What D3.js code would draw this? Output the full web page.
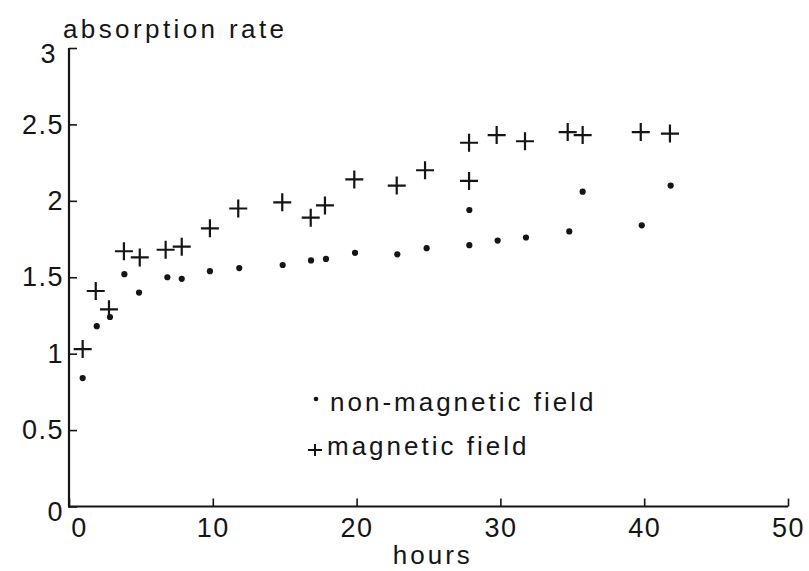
<!DOCTYPE html>
<html>
<head>
<meta charset="utf-8">
<script src="https://cdn.jsdelivr.net/npm/d3@7"></script>
<style>
  html, body { margin: 0; padding: 0; background: #fff; }
  svg { display: block; }
  text { font-family: "Liberation Sans", Arial, Helvetica, sans-serif; fill: #151515; }
</style>
</head>
<body>
<svg id="chart" width="809" height="571"></svg>
<script>
// ---- data ----
const nonMagHours = [0.95, 1.93, 2.85, 3.85, 4.87, 6.84, 7.84, 9.8, 11.84, 14.86, 16.83, 17.87, 19.89, 22.83, 24.87, 27.84, 27.84, 29.81, 31.78, 34.79, 35.72, 39.83, 41.84];
const nonMagRate  = [0.84, 1.18, 1.24, 1.52, 1.40, 1.50, 1.49, 1.54, 1.56, 1.58, 1.61, 1.62, 1.66, 1.65, 1.69, 1.71, 1.94, 1.74, 1.76, 1.80, 2.06, 1.84, 2.10];
const magHours    = [0.95, 1.86, 2.78, 3.82, 4.92, 6.72, 7.84, 9.8, 11.77, 14.83, 16.81, 17.8, 19.84, 22.79, 24.76, 27.82, 27.82, 29.74, 31.71, 34.68, 35.72, 39.76, 41.79];
const magRate     = [1.03, 1.41, 1.29, 1.67, 1.63, 1.68, 1.70, 1.82, 1.95, 1.99, 1.89, 1.97, 2.14, 2.10, 2.20, 2.38, 2.13, 2.43, 2.39, 2.45, 2.43, 2.45, 2.44];
const xTicks = [0, 10, 20, 30, 40, 50];
const yTicks = [0, 0.5, 1, 1.5, 2, 2.5, 3];
const yTickLabels = ["0", "0.5", "1", "1.5", "2", "2.5", "3"];
const legendLabels = ["non-magnetic field", "magnetic field"];
const xTitle = "hours";
const yTitle = "absorption rate";

// ---- layout ----
const svg = d3.select("#chart");
const x = d3.scaleLinear().domain([0, 50]).range([69, 788]);
const y = d3.scaleLinear().domain([0, 3]).range([506.5, 48]);
const ink = "#151515";
const fontSize = 27;
const textSize = 26;
const spacing = 3;

// y axis
const yAxis = svg.append("g")
  .attr("transform", `translate(${x(0)},0)`)
  .call(d3.axisLeft(y).tickValues(yTicks).tickFormat((d, i) => yTickLabels[i])
    .tickSizeInner(-8).tickSizeOuter(0).tickPadding(5));
// x axis
const xAxis = svg.append("g")
  .attr("transform", `translate(0,${y(0)})`)
  .call(d3.axisBottom(x).tickValues(xTicks).tickFormat(d3.format("d"))
    .tickSizeInner(-8).tickSizeOuter(0).tickPadding(11));

[yAxis, xAxis].forEach(g => {
  g.select(".domain").attr("stroke", ink).attr("stroke-width", 2.2);
  g.selectAll(".tick line").attr("stroke", ink).attr("stroke-width", 1.6);
  g.selectAll(".tick text")
    .attr("font-size", fontSize)
    .attr("font-family", '"Liberation Sans", Arial, sans-serif')
    .attr("letter-spacing", 1.5)
    .attr("fill", ink);
});
// extend axes so they meet cleanly at the corner
yAxis.select(".domain").attr("d", `M0,${y(0) + 1}V${y(3)}`);
xAxis.select(".domain").attr("d", `M${x(0) - 1},0H${x(50)}`);
// small offsets of some labels as in the reference
yAxis.selectAll(".tick text").filter(d => d === 0).attr("dy", "0.5em");
yAxis.selectAll(".tick text").filter(d => d === 3).attr("dy", "0.55em").attr("x", -12);
xAxis.selectAll(".tick text").filter(d => d === 0).attr("x", 10);

// axis titles
svg.append("text").attr("x", 63).attr("y", 38)
  .attr("font-size", textSize).attr("letter-spacing", spacing + 0.4).text(yTitle);
svg.append("text").attr("x", x(25.3)).attr("y", 564)
  .attr("text-anchor", "middle").attr("font-size", textSize)
  .attr("letter-spacing", spacing).text(xTitle);

// points
const nonMag = nonMagHours.map((h, i) => ({h, r: nonMagRate[i]}));
const mag = magHours.map((h, i) => ({h, r: magRate[i]}));

// non-magnetic (dots)
svg.append("g").selectAll("circle").data(nonMag).join("circle")
  .attr("cx", d => x(d.h)).attr("cy", d => y(d.r))
  .attr("r", 3.1).attr("fill", ink);

// magnetic (crosses)
const crossPath = (s) => `M${-s},0H${s}M0,${-s}V${s}`;
svg.append("g").selectAll("path").data(mag).join("path")
  .attr("transform", d => `translate(${x(d.h)},${y(d.r)})`)
  .attr("d", crossPath(9))
  .attr("stroke", ink).attr("stroke-width", 2.2).attr("fill", "none");

// legend
const lg = svg.append("g");
lg.append("circle").attr("cx", 316).attr("cy", 399).attr("r", 2.3).attr("fill", ink);
lg.append("text").attr("x", 330).attr("y", 411).attr("font-size", textSize)
  .attr("letter-spacing", spacing).text(legendLabels[0]);
lg.append("path").attr("transform", "translate(315,450)")
  .attr("d", `M-7,0H7M0,-6V6`).attr("stroke", ink).attr("stroke-width", 2).attr("fill", "none");
lg.append("text").attr("x", 327).attr("y", 455).attr("font-size", textSize)
  .attr("letter-spacing", spacing).text(legendLabels[1]);
</script>
</body>
</html>
